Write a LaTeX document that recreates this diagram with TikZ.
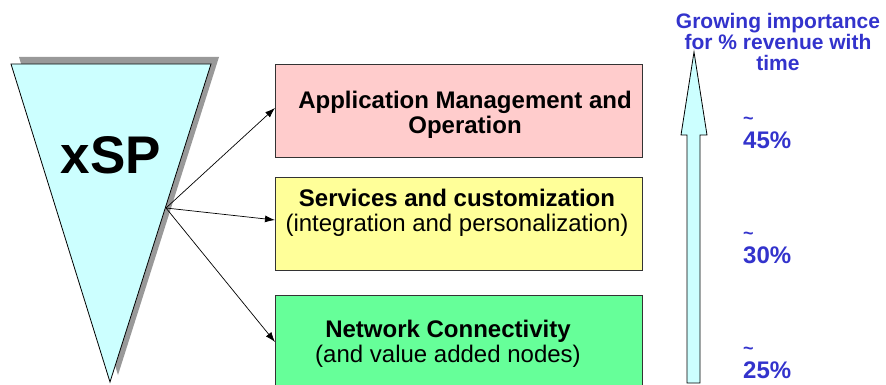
\documentclass[tikz,border=0pt]{standalone}
\usepackage{fontspec}
\setmainfont{Liberation Sans}
\usetikzlibrary{arrows.meta}
\definecolor{xspcyan}{HTML}{CCFFFF}
\definecolor{apppink}{HTML}{FFCCCC}
\definecolor{servyellow}{HTML}{FFFF99}
\definecolor{netgreen}{HTML}{66FF99}
\definecolor{growblue}{HTML}{3333CC}
\definecolor{shadowgray}{HTML}{999999}
\newcommand{\fs}[1]{\fontsize{#1}{#1}\selectfont}

\begin{document}
\begin{tikzpicture}[x=1pt, y=-1pt,
    layerbox/.style={draw=black!80, line width=0.8pt, minimum width=367pt, minimum height=93pt, anchor=north west},
    layertext/.style={align=center, font=\fs{24}, text=black},
    link/.style={-{Latex[length=10pt,width=7pt]}, line width=0.7pt},
    pct/.style={align=left, text=growblue, font=\bfseries\fs{24}, anchor=north west, inner sep=0pt}]
        \useasboundingbox (0,0) rectangle (886,385);
        % Triangle with shadow
        \fill[shadowgray] (19,57) -- (219,57) -- (118,375) -- cycle;
        \draw[fill=xspcyan, line width=0.8pt] (11,64) -- (211,64) -- (110,382) -- cycle;
        \node[font=\bfseries\fs{53}] (xsp) at (111,155) {xSP};
        \coordinate (fork) at (166,208);
        % Layers
        \node[layerbox, fill=apppink] (app) at (275,64) {};
        \node[layerbox, fill=servyellow] (serv) at (275,177) {};
        \node[layerbox, fill=netgreen, minimum height=100pt] (net) at (275,295) {};
        \node[layertext, font=\bfseries\fs{24}] (apptext) at (465,115) {Application Management and\\[1pt]Operation};
        \node[layertext] (servtext) at (457,213) {\textbf{Services and customization}\\[1pt](integration and personalization)};
        \node[layertext] (nettext) at (448,344) {\textbf{Network Connectivity}\\[1pt](and value added nodes)};
        % Links
        \draw[link] (fork) -- (app.west |- 0,108);
        \draw[link] (fork) -- (serv.west |- 0,220);
        \draw[link] (fork) -- (net.west |- 0,342);
        % Growth arrow
        \draw[fill=xspcyan, line width=0.8pt] (687,383) -- (700,383) -- (700,135) -- (707,135)
            -- (694,52) -- (681,135) -- (687,135) -- cycle;
        \node[align=center, text=growblue, font=\bfseries\fs{21}, inner sep=0pt] (growth) at (778,42)
            {Growing importance\\[0pt]for \% revenue with\\[0pt]time};
        \node[pct] (p45) at (743,117) {{\fs{18}\textasciitilde}\\[0pt]45\%};
        \node[pct] (p30) at (743,232) {{\fs{18}\textasciitilde}\\[0pt]30\%};
        \node[pct] (p25) at (743,347) {{\fs{18}\textasciitilde}\\[0pt]25\%};
\end{tikzpicture}
\end{document}
